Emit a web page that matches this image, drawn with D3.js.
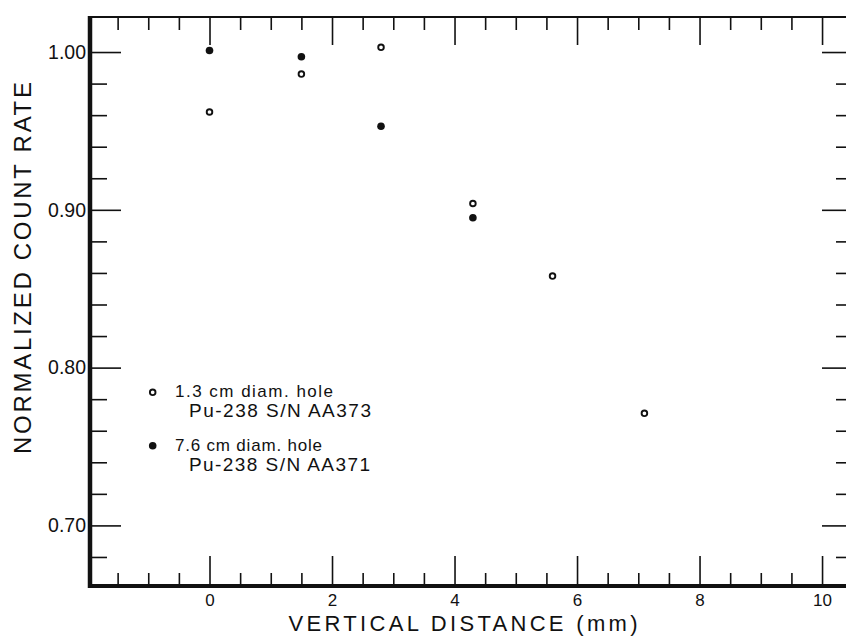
<!DOCTYPE html>
<html>
<head>
<meta charset="utf-8">
<script src="https://cdn.jsdelivr.net/npm/d3@7"></script>
<style>
  body { margin: 0; background: #fff; }
  svg { display: block; font-family: "Liberation Sans", Arial, sans-serif; }
  .tick line { stroke: #111; stroke-width: 1.6; }
  .tick text { fill: #111; }
</style>
</head>
<body>
<svg id="chart" width="846" height="636"></svg>
<script>
// 1.3 cm diam. hole (open circles)
var distSmall = [0, 1.5, 2.8, 4.3, 5.6, 7.1];
var rateSmall = [0.962, 0.986, 1.003, 0.904, 0.858, 0.771];
// 7.6 cm diam. hole (filled circles)
var distLarge = [0, 1.5, 2.8, 4.3];
var rateLarge = [1.001, 0.997, 0.953, 0.895];

var xMajorTicks = [0, 2, 4, 6, 8, 10];
var xMinorTicks = [-1.5, -1, -0.5, 0.5, 1, 1.5, 2.5, 3, 3.5, 4.5, 5, 5.5, 6.5, 7, 7.5, 8.5, 9, 9.5];
var yMajorTicks = [0.70, 0.80, 0.90, 1.00];
var yMinorTicks = [0.68, 0.72, 0.74, 0.76, 0.78, 0.82, 0.84, 0.86, 0.88, 0.92, 0.94, 0.96, 0.98];

var legendLabels = [
  ["1.3 cm diam. hole", "Pu-238 S/N AA373"],
  ["7.6 cm diam. hole", "Pu-238 S/N AA371"]
];

var ink = '#111';
var plotLeft = 90, plotRight = 849, plotTop = 17, plotBottom = 586;

var svg = d3.select('#chart');

var x = d3.scaleLinear().domain([-1.951, 10.44]).range([plotLeft, plotRight]);
var y = d3.scaleLinear().domain([0.6616, 1.0222]).range([plotBottom, plotTop]);

function noDomain(g) { g.select('.domain').remove(); }

// bottom axis
svg.append('g')
  .attr('transform', 'translate(0,' + plotBottom + ')')
  .call(d3.axisBottom(x).tickValues(xMinorTicks).tickFormat('').tickSizeInner(-13).tickSizeOuter(0))
  .call(noDomain);
svg.append('g')
  .attr('transform', 'translate(0,' + plotBottom + ')')
  .call(d3.axisBottom(x).tickValues(xMajorTicks).tickSizeInner(-30).tickSizeOuter(0).tickPadding(7.5))
  .call(noDomain)
  .selectAll('text').attr('font-size', 17).attr('font-family', '"Liberation Sans", Arial, sans-serif');

// top axis
svg.append('g')
  .attr('transform', 'translate(0,' + plotTop + ')')
  .call(d3.axisTop(x).tickValues(xMinorTicks).tickFormat('').tickSizeInner(-13).tickSizeOuter(0))
  .call(noDomain);
svg.append('g')
  .attr('transform', 'translate(0,' + plotTop + ')')
  .call(d3.axisTop(x).tickValues(xMajorTicks).tickFormat('').tickSizeInner(-28).tickSizeOuter(0))
  .call(noDomain);

// left axis
svg.append('g')
  .attr('transform', 'translate(' + plotLeft + ',0)')
  .call(d3.axisLeft(y).tickValues(yMinorTicks).tickFormat('').tickSizeInner(-17).tickSizeOuter(0))
  .call(noDomain);
svg.append('g')
  .attr('transform', 'translate(' + plotLeft + ',0)')
  .call(d3.axisLeft(y).tickValues(yMajorTicks).tickFormat(d3.format('.2f')).tickSizeInner(-31).tickSizeOuter(0).tickPadding(4))
  .call(noDomain)
  .selectAll('text').attr('font-size', 19.5).attr('font-family', '"Liberation Sans", Arial, sans-serif');

// right axis
svg.append('g')
  .attr('transform', 'translate(' + plotRight + ',0)')
  .call(d3.axisRight(y).tickValues(yMinorTicks).tickFormat('').tickSizeInner(-13).tickSizeOuter(0))
  .call(noDomain);
svg.append('g')
  .attr('transform', 'translate(' + plotRight + ',0)')
  .call(d3.axisRight(y).tickValues(yMajorTicks).tickFormat('').tickSizeInner(-27).tickSizeOuter(0))
  .call(noDomain);

// frame: heavy left and bottom, light top and right
svg.append('line').attr('x1', plotLeft).attr('x2', plotRight).attr('y1', plotTop).attr('y2', plotTop)
  .attr('stroke', ink).attr('stroke-width', 1.8);
svg.append('line').attr('x1', plotRight).attr('x2', plotRight).attr('y1', plotTop).attr('y2', plotBottom)
  .attr('stroke', ink).attr('stroke-width', 1.8);
svg.append('line').attr('x1', plotLeft).attr('x2', plotRight).attr('y1', plotBottom).attr('y2', plotBottom)
  .attr('stroke', ink).attr('stroke-width', 4);
svg.append('line').attr('x1', plotLeft).attr('x2', plotLeft).attr('y1', plotTop - 1).attr('y2', plotBottom + 2)
  .attr('stroke', ink).attr('stroke-width', 4.5);

// axis titles
svg.append('text')
  .attr('x', 463).attr('y', 631)
  .attr('text-anchor', 'middle')
  .attr('font-size', 22)
  .attr('textLength', 349).attr('lengthAdjust', 'spacing')
  .attr('fill', ink)
  .text('VERTICAL DISTANCE (mm)');

svg.append('text')
  .attr('transform', 'translate(31,268) rotate(-90)')
  .attr('text-anchor', 'middle')
  .attr('font-size', 24)
  .attr('textLength', 372).attr('lengthAdjust', 'spacing')
  .attr('fill', ink)
  .text('NORMALIZED COUNT RATE');

// data points
var small = distSmall.map(function(d, i) { return { x: d, y: rateSmall[i] }; });
var large = distLarge.map(function(d, i) { return { x: d, y: rateLarge[i] }; });

svg.append('g').selectAll('circle')
  .data(small)
  .enter().append('circle')
  .attr('cx', function(d) { return x(d.x); })
  .attr('cy', function(d) { return y(d.y); })
  .attr('r', 2.8)
  .attr('fill', '#fff')
  .attr('stroke', ink)
  .attr('stroke-width', 1.9);

svg.append('g').selectAll('circle')
  .data(large)
  .enter().append('circle')
  .attr('cx', function(d) { return x(d.x); })
  .attr('cy', function(d) { return y(d.y); })
  .attr('r', 3.8)
  .attr('fill', ink);

// legend
var legend = svg.append('g');
legend.append('circle').attr('cx', 152.7).attr('cy', 392.3).attr('r', 2.8)
  .attr('fill', '#fff').attr('stroke', ink).attr('stroke-width', 1.9);
legend.append('circle').attr('cx', 152.7).attr('cy', 445.7).attr('r', 3.8)
  .attr('fill', ink);

var legendRows = [
  { text: legendLabels[0][0], x: 175, y: 397, w: 158, size: 17 },
  { text: legendLabels[0][1], x: 189, y: 416.5, w: 182, size: 19 },
  { text: legendLabels[1][0], x: 175, y: 451, w: 147, size: 17 },
  { text: legendLabels[1][1], x: 189, y: 470.5, w: 181, size: 19 }
];
legend.selectAll('text.row')
  .data(legendRows)
  .enter().append('text')
  .attr('class', 'row')
  .attr('x', function(d) { return d.x; })
  .attr('y', function(d) { return d.y; })
  .attr('font-size', function(d) { return d.size; })
  .attr('textLength', function(d) { return d.w; })
  .attr('lengthAdjust', 'spacing')
  .attr('fill', ink)
  .text(function(d) { return d.text; });
</script>
</body>
</html>
